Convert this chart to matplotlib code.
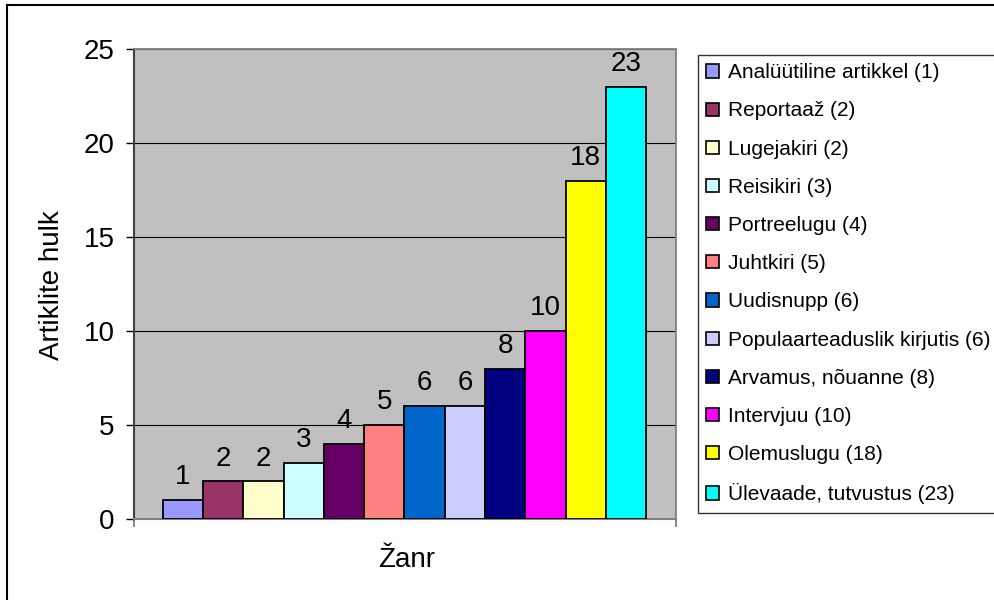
import matplotlib.pyplot as plt
from matplotlib.lines import Line2D
from matplotlib.patches import Patch

plt.rcParams['font.family'] = ['Liberation Sans', 'DejaVu Sans']

genres = ['Analüütiline artikkel', 'Reportaaž', 'Lugejakiri', 'Reisikiri',
          'Portreelugu', 'Juhtkiri', 'Uudisnupp', 'Populaarteaduslik kirjutis',
          'Arvamus, nõuanne', 'Intervjuu', 'Olemuslugu', 'Ülevaade, tutvustus']
counts = [1, 2, 2, 3, 4, 5, 6, 6, 8, 10, 18, 23]
colors = ['#9999FF', '#993366', '#FFFFCC', '#CCFFFF', '#660066', '#FF8080',
          '#0066CC', '#CCCCFF', '#000080', '#FF00FF', '#FFFF00', '#00FFFF']

fig = plt.figure(figsize=(9.95, 6), dpi=100)
ax = fig.add_axes([134 / 995, 81 / 600, 542 / 995, 470 / 600])
ax.set_facecolor('#C0C0C0')

pos = list(range(len(counts)))
bars = ax.bar(pos, counts, width=1.0, color=colors, edgecolor='black',
              linewidth=1.3, zorder=3)
for x, v in zip(pos, counts):
    ax.annotate(str(v), (x, v), xytext=(0, 7), textcoords='offset points',
                ha='center', va='bottom', fontsize=20)

ax.set_xlim(-1.22, 12.245)
ax.set_ylim(0, 25)
ax.set_yticks([0, 5, 10, 15, 20, 25])
ax.yaxis.grid(True, color='black', linewidth=0.8, zorder=0)
ax.set_xticks([-1.22, 12.245])
ax.set_xticklabels([])
ax.tick_params(axis='x', length=6, width=1.3, color='#808080')
ax.tick_params(axis='y', length=6, width=1, labelsize=20, pad=8)

for s in ['top', 'right']:
    ax.spines[s].set_color('#808080')
    ax.spines[s].set_linewidth(1.3)
ax.spines['left'].set_color('#404040')
ax.spines['left'].set_linewidth(1.5)
ax.spines['bottom'].set_color('#808080')
ax.spines['bottom'].set_linewidth(1.5)

fig.text(52 / 995, 1 - 285 / 600, 'Artiklite hulk', rotation=90,
         ha='center', va='center', fontsize=20)
fig.text(407 / 995, 1 - 560 / 600, 'Žanr', ha='center', va='center',
         fontsize=20)

handles = [Patch(facecolor=c, edgecolor='black', linewidth=1.2) for c in colors]
labels = [f'{g} ({v})' for g, v in zip(genres, counts)]
leg = fig.legend(handles, labels, loc='upper left',
                 bbox_to_anchor=(698 / 995, 1 - 55 / 600), borderaxespad=0,
                 fontsize=15, frameon=True, fancybox=False, shadow=False,
                 labelspacing=0.92, handlelength=0.6, handleheight=0.6,
                 handletextpad=0.45, borderpad=0.4)
leg.get_frame().set_edgecolor('black')
leg.get_frame().set_linewidth(1.0)

fig.add_artist(Line2D([7 / 995, 7 / 995], [0, 1 - 5 / 600], color='black',
                      linewidth=1.5, transform=fig.transFigure))
fig.add_artist(Line2D([7 / 995, 1], [1 - 5 / 600, 1 - 5 / 600], color='black',
                      linewidth=1.5, transform=fig.transFigure))

fig.savefig('out.png', dpi=100)
